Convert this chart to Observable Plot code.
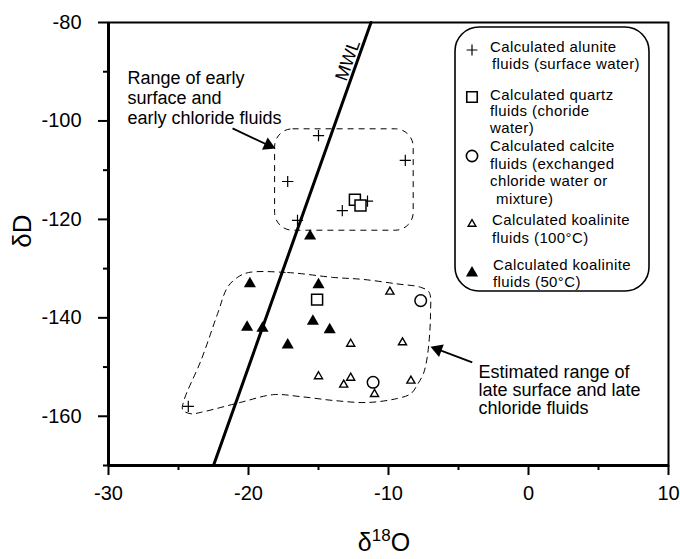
<!DOCTYPE html>
<html><head><meta charset="utf-8">
<script src="https://cdn.jsdelivr.net/npm/d3@7"></script>
<script src="https://cdn.jsdelivr.net/npm/@observablehq/plot@0.6"></script>
<style>body{margin:0;background:#fff}#chart{width:680px;height:559px}</style>
</head><body><div id="chart"></div>
<script>
// ---- data ----
const xTicks = [-30, -20, -10, 0, 10];
const xMinor = [-25, -15, -5, 5];
const yTicks = [-80, -100, -120, -140, -160];
const yMinor = [-90, -110, -130, -150, -170];

const aluniteX = [-15.0, -17.2, -13.3, -11.5, -16.5, -8.8, -24.3];
const aluniteY = [-103.0, -112.3, -118.2, -116.3, -120.2, -108.0, -158.0];
const quartzX = [-12.4, -12.0, -15.1];
const quartzY = [-116.0, -117.2, -136.3];
const calciteX = [-11.1, -7.7];
const calciteY = [-153.1, -136.5];
const kaol100X = [-9.9, -12.7, -9.0, -15.0, -13.2, -12.7, -11.0, -8.4];
const kaol100Y = [-134.7, -145.3, -145.0, -151.9, -153.6, -152.2, -155.5, -152.8];
const kaol50X = [-15.6, -19.9, -15.0, -20.1, -19.0, -15.4, -14.2, -17.2];
const kaol50Y = [-123.4, -133.1, -133.3, -141.9, -142.1, -140.7, -142.4, -145.5];

const mwlX = [-22.5, -11.25];
const mwlY = [-170, -80];

const earlyRangeX = [-18.1, -8.2];
const earlyRangeY = [-122.3, -101.7];

const lateRangeX = [-20.0, -17.2, -13.9, -11.8, -9.4, -7.7, -7.1, -7.0, -7.2, -7.5, -7.9, -8.4, -9.4, -11.5, -13.9, -16.3, -18.2, -20.6, -23.4, -24.1, -24.7, -24.6, -23.4, -22.2, -21.5, -20.8];
const lateRangeY = [-130.8, -130.8, -131.8, -132.2, -133.1, -133.8, -134.8, -139.1, -147.3, -151.3, -153.4, -155.4, -156.4, -157.2, -156.8, -156.0, -155.6, -157.2, -159.2, -159.5, -158.7, -156.7, -148.7, -139.1, -133.8, -131.8];

const arrowTailX = [-21.14, -4.02];
const arrowTailY = [-101.5, -149.05];
const arrowHeadX = [-18.58, -6.48];
const arrowHeadY = [-104.94, -146.41];
const arrowAngle = [115, 290.6];

const note1 = "Range of early\nsurface and\nearly chloride fluids";
const note2 = "Estimated range of\nlate surface and late\nchloride fluids";

const legendLines = [
  ["Calculated alunite", 490, 52],
  ["fluids (surface water)", 492, 69],
  ["Calculated quartz", 490, 100],
  ["fluids (choride", 490, 116],
  ["water)", 490, 133],
  ["Calculated calcite", 490, 151],
  ["fluids (exchanged", 490, 169],
  ["chloride water or", 490, 186],
  ["mixture)", 496, 204],
  ["Calculated koalinite", 492, 225],
  ["fluids (100°C)", 492, 243],
  ["Calculated koalinite", 493, 270],
  ["fluids (50°C)", 493, 287]
];

// ---- fonts ----
function hasFont(name) {
  const c = document.createElement("canvas").getContext("2d");
  const s = "abcdefghijklmnopqrstuvwxyzABCDEFGHIJ0123456789";
  c.font = "40px monospace"; const a = c.measureText(s).width;
  c.font = `40px '${name}', monospace`; return c.measureText(s).width !== a;
}
const fontReg = "'Liberation Sans', Arial, Helvetica, sans-serif";
const narrow = hasFont("Liberation Sans Narrow");
const legendFont = narrow ? "'Liberation Sans Narrow', 'Liberation Sans', sans-serif" : fontReg;
const legendSize = narrow ? 18 : 15;

const idx = (a) => a.map((_, i) => i);

const chart = Plot.plot({
  width: 680, height: 559,
  marginLeft: 108, marginRight: 12, marginTop: 22, marginBottom: 94,
  style: {fontFamily: fontReg, fontSize: "20px", color: "#000", background: "#fff", overflow: "visible"},
  x: {domain: [-30, 10]},
  y: {domain: [-170, -80]},
  marks: [
    Plot.axisX({ticks: xTicks, tickSize: 10, tickPadding: 10, strokeWidth: 2, fontSize: 20, label: null, tickFormat: d => String(d)}),
    Plot.axisX({ticks: xMinor, tickSize: 5, strokeWidth: 2, label: null, tickFormat: () => ""}),
    Plot.axisY({ticks: yTicks, tickSize: 10, tickPadding: 17, strokeWidth: 2, fontSize: 20, label: null, tickFormat: d => String(d)}),
    Plot.axisY({ticks: yMinor, tickSize: 5, strokeWidth: 2, label: null, tickFormat: () => ""}),
    Plot.frame({stroke: "#000", strokeWidth: 2}),
    Plot.ruleX([-30], {stroke: "#000", strokeWidth: 3}),
    Plot.ruleY([-170], {stroke: "#000", strokeWidth: 3}),
    // dashed envelopes
    Plot.rect([0], {x1: [earlyRangeX[0]], x2: [earlyRangeX[1]], y1: [earlyRangeY[0]], y2: [earlyRangeY[1]], rx: 18, fill: "none", stroke: "#000", strokeWidth: 1, strokeDasharray: "6,5"}),
    Plot.line(idx(lateRangeX), {x: lateRangeX, y: lateRangeY, curve: "catmull-rom-closed", stroke: "#000", strokeWidth: 1, strokeDasharray: "6,5"}),
    // MWL
    Plot.line(idx(mwlX), {x: mwlX, y: mwlY, stroke: "#000", strokeWidth: 3}),
    Plot.text(["MWL"], {x: [-12.9], y: [-87.7], text: d => d, rotate: -70.4, fontSize: 18, fill: "#000"}),
    // arrows
    Plot.link(idx(arrowTailX), {x1: arrowTailX, y1: arrowTailY, x2: arrowHeadX, y2: arrowHeadY, stroke: "#000", strokeWidth: 1.8}),
    Plot.dot(idx(arrowHeadX), {x: arrowHeadX, y: arrowHeadY, symbol: "triangle", r: 5, rotate: arrowAngle, fill: "#000", stroke: "none"}),
    // annotations
    Plot.text([note1], {x: [-28.64], y: [-89.55], text: d => d, textAnchor: "start", lineAnchor: "top", lineHeight: 1.11, fontSize: 18, fill: "#000"}),
    Plot.text([note2], {x: [-3.57], y: [-149.5], text: d => d, textAnchor: "start", lineAnchor: "top", lineHeight: 1.02, fontSize: 18, fill: "#000"}),
    // points
    Plot.dot(idx(aluniteX), {x: aluniteX, y: aluniteY, symbol: "plus", r: 3.7, fill: "none", stroke: "#000", strokeWidth: 1.2}),
    Plot.dot(idx(kaol100X), {x: kaol100X, y: kaol100Y, symbol: "triangle", r: 3.0, fill: "#fff", stroke: "#000", strokeWidth: 1.4}),
    Plot.dot(idx(kaol50X), {x: kaol50X, y: kaol50Y, symbol: "triangle", r: 4.5, fill: "#000", stroke: "none"}),
    Plot.dot(idx(quartzX), {x: quartzX, y: quartzY, symbol: "square", r: 6.2, fill: "#fff", stroke: "#000", strokeWidth: 1.5}),
    Plot.dot(idx(calciteX), {x: calciteX, y: calciteY, symbol: "circle", r: 5.8, fill: "#fff", stroke: "#000", strokeWidth: 1.5})
  ]
});

const svg = d3.select(chart);
// axis titles
const yl = svg.append("text").attr("transform", "translate(31,231) rotate(-90)")
  .attr("text-anchor", "middle").attr("font-size", 26).attr("font-family", fontReg).attr("fill", "#000");
yl.text("δD");
const xl = svg.append("text").attr("x", 384).attr("y", 551)
  .attr("text-anchor", "middle").attr("font-size", 25).attr("font-family", fontReg).attr("fill", "#000");
xl.append("tspan").text("δ");
xl.append("tspan").attr("font-size", 17).attr("dy", -10).text("18");
xl.append("tspan").attr("dy", 10).text("O");

// legend
const lg = svg.append("g").attr("text-anchor", "start");
lg.append("rect").attr("x", 455).attr("y", 27).attr("width", 194).attr("height", 264).attr("rx", 24)
  .attr("fill", "#fff").attr("stroke", "#000").attr("stroke-width", 1.6);
const sym = (type, size, x, y, fill, stroke, sw) => lg.append("path")
  .attr("d", d3.symbol(type, size)()).attr("transform", `translate(${x},${y})`)
  .attr("fill", fill).attr("stroke", stroke).attr("stroke-width", sw);
sym(d3.symbolPlus, 40, 472, 50, "none", "#000", 1.2);
sym(d3.symbolSquare, 110, 472, 97, "#fff", "#000", 1.6);
sym(d3.symbolCircle, 100, 472, 156, "#fff", "#000", 1.6);
sym(d3.symbolTriangle, 26, 472, 224, "#fff", "#000", 1.4);
sym(d3.symbolTriangle, 64, 472, 273, "#000", "none", 0);
legendLines.forEach(([t, x, y]) => lg.append("text").attr("x", x).attr("y", y)
  .attr("text-anchor", "start")
  .attr("font-size", legendSize).attr("font-family", legendFont).attr("letter-spacing", narrow ? 0.6 : 0.4)
  .attr("fill", "#000").text(t));

document.getElementById("chart").appendChild(chart);
</script>
</body></html>
